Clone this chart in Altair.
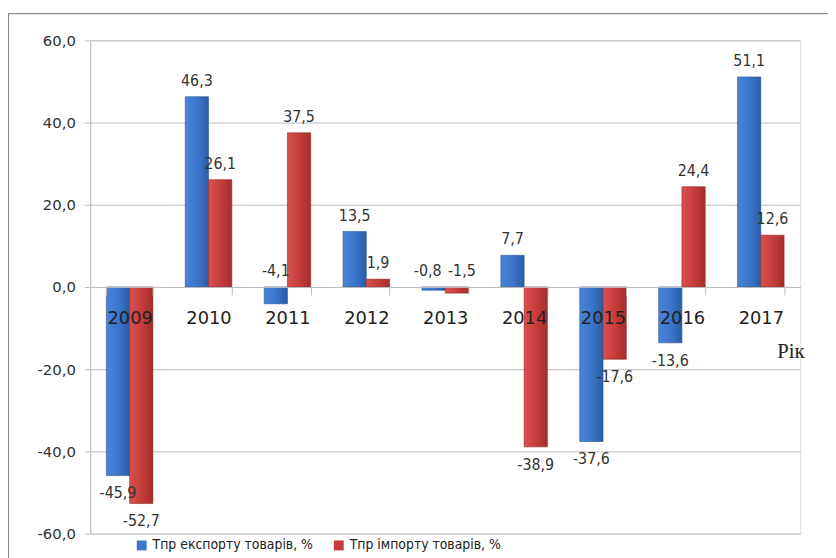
import altair as alt
import pandas as pd

years = ["2009", "2010", "2011", "2012", "2013", "2014", "2015", "2016", "2017"]
series_names = ["Тпр експорту товарів, %", "Тпр імпорту товарів, %"]
export_vals = [-45.9, 46.3, -4.1, 13.5, -0.8, 7.7, -37.6, -13.6, 51.1]
import_vals = [-52.7, 26.1, 37.5, 1.9, -1.5, -38.9, -17.6, 24.4, 12.6]
y_ticks = [-60, -40, -20, 0, 20, 40, 60]
x_title = "Рік"

rows = []
for y, v in zip(years, export_vals):
    rows.append({"year": y, "series": series_names[0], "value": v})
for y, v in zip(years, import_vals):
    rows.append({"year": y, "series": series_names[1], "value": v})
df = pd.DataFrame(rows)

W, H = 717, 498
grid_col = "#bdbdbd"
txt_col = "#333333"
narrow = "Liberation Sans Narrow, DejaVu Sans Condensed, sans-serif"
num_expr = "(datum.value < 0 ? '-' : '') + replace(format(abs(datum.value), '.1f'), '.', ',')"

blue_grad = alt.Gradient(
    gradient="linear", x1=0, x2=1, y1=0, y2=0,
    stops=[alt.GradientStop(color="#4a84d6", offset=0),
           alt.GradientStop(color="#3b76cc", offset=0.5),
           alt.GradientStop(color="#2b5ca6", offset=1)],
)
red_grad = alt.Gradient(
    gradient="linear", x1=0, x2=1, y1=0, y2=0,
    stops=[alt.GradientStop(color="#d9514f", offset=0),
           alt.GradientStop(color="#c63d3b", offset=0.5),
           alt.GradientStop(color="#a52e2c", offset=1)],
)

x_enc = alt.X(
    "year:N",
    sort=years,
    scale=alt.Scale(paddingInner=0.41, paddingOuter=0.205),
    axis=alt.Axis(
        title=x_title,
        orient="bottom",
        offset=-H / 2,
        zindex=1,
        domainColor=grid_col,
        tickColor=grid_col,
        tickSize=8,
        tickBand="extent",
        labelAngle=0,
        labelFont="DejaVu Sans",
        labelFontSize=18,
        labelColor="#222222",
        labelPadding=15,
        titleFont="Liberation Serif",
        titleFontSize=21,
        titleFontWeight="normal",
        titleColor="#222222",
        titleAnchor="end",
        titleAlign="right",
        titleBaseline="middle",
        titleX=W + 4,
        titleY=65,
    ),
)
xoff_enc = alt.XOffset("series:N", sort=series_names,
                       scale=alt.Scale(domain=series_names, paddingInner=0.0, paddingOuter=0.0))
y_enc = alt.Y(
    "value:Q",
    scale=alt.Scale(domain=[-60, 60], nice=False),
    axis=alt.Axis(
        title=None,
        values=y_ticks,
        labelExpr=num_expr,
        grid=True,
        gridColor=grid_col,
        domainColor=grid_col,
        tickColor=grid_col,
        tickSize=6,
        labelPadding=9,
        labelFont="DejaVu Sans",
        labelFontSize=15,
        labelColor="#333333",
    ),
)

base = alt.Chart(df)

bars_exp = base.transform_filter(alt.datum.series == series_names[0]).mark_bar(
    fill=blue_grad, stroke="#2a5596", strokeWidth=0.6
).encode(x=x_enc, xOffset=xoff_enc, y=y_enc, y2=alt.datum(0))

bars_imp = base.transform_filter(alt.datum.series == series_names[1]).mark_bar(
    fill=red_grad, stroke="#8f2625", strokeWidth=0.6
).encode(x=x_enc, xOffset=xoff_enc, y=y_enc, y2=alt.datum(0))

lab = base.transform_calculate(
    label=num_expr,
    ly="(datum.value < 0 && datum.value > -5) ? 0 : datum.value",
    kind="datum.value >= 0 ? 'up' : (datum.value > -2 ? (datum.series == '"
         + series_names[0] + "' ? 'nearL' : 'nearR') : (datum.value > -5 ? 'up' : 'down'))",
)


def text_layer(kind, baseline, dy, dx=0):
    return lab.transform_filter(alt.datum.kind == kind).mark_text(
        baseline=baseline, dy=dy, dx=dx, font=narrow, fontSize=16, color=txt_col
    ).encode(x=x_enc, xOffset=xoff_enc, y=alt.Y("ly:Q"), text="label:N")


labels_up = text_layer("up", "bottom", -8)
labels_near_l = text_layer("nearL", "bottom", -8, -6)
labels_near_r = text_layer("nearR", "bottom", -8, 5)
labels_down = text_layer("down", "top", 10)

legend_layer = base.mark_square(opacity=0, size=90).encode(
    color=alt.Color(
        "series:N",
        sort=series_names,
        scale=alt.Scale(domain=series_names, range=["#3b76cc", "#c63d3b"]),
        legend=alt.Legend(
            title=None,
            orient="none",
            legendX=45,
            legendY=503,
            direction="horizontal",
            columns=2,
            columnPadding=18,
            symbolType="square",
            symbolSize=100,
            symbolOpacity=1,
            symbolStrokeWidth=0,
            labelFont=narrow,
            labelFontSize=14,
            labelColor="#222222",
            labelLimit=400,
        ),
    )
)

frame = alt.Chart(pd.DataFrame({"k": [0]})).mark_rect(
    fill=None, stroke="#8c8c8c", strokeWidth=1.2, clip=False
).encode(
    x=alt.value(-82.5), x2=alt.value(W + 60),
    y=alt.value(-27), y2=alt.value(H + 60),
)

chart = alt.layer(
    frame, bars_exp, bars_imp, labels_up, labels_near_l, labels_near_r,
    labels_down, legend_layer
).properties(
    width=W, height=H,
    autosize=alt.AutoSizeParams(type="none"),
    padding={"left": 83, "top": 30, "right": 28, "bottom": 22},
).configure_view(stroke=None).configure(background="white")

chart.save("out.html", embed_options={"renderer": "svg", "actions": False})
